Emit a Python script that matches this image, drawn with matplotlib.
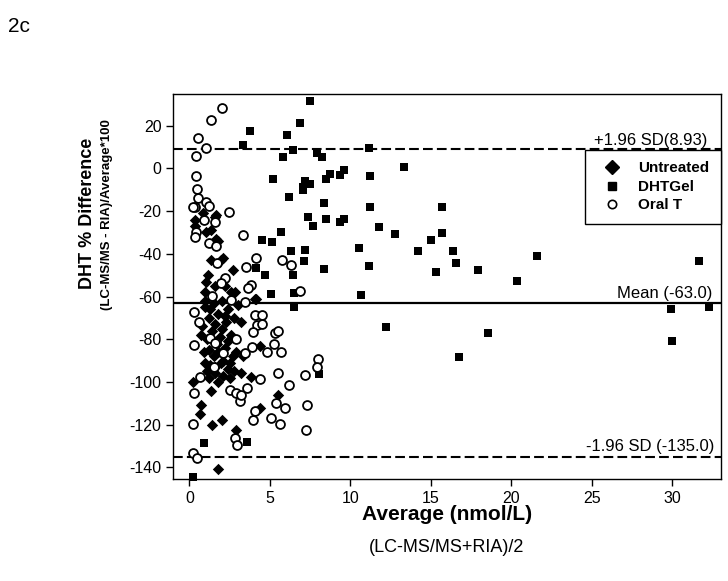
import numpy as np
import matplotlib
matplotlib.use('Agg')
import matplotlib.pyplot as plt
from matplotlib.lines import Line2D

plt.rcParams['font.family'] = ['Liberation Sans', 'DejaVu Sans']
plt.rcParams['lines.scale_dashes'] = False
plt.rcParams['axes.unicode_minus'] = False

# Untreated (diamonds)
untreated_x = [0.33, 0.85, 1.68, 1.57, 1.37, 1.06, 1.78, 1.68, 0.33, 1.37, 1.99, 2.09, 2.71, 1.16, 1.06,
               2.19, 2.61, 2.82, 0.95, 4.16, 4.06,
               1.0, 1.5, 2.0, 2.4, 1.2, 1.8, 2.3, 0.8, 1.4, 2.0, 2.6, 1.1, 1.7, 2.2, 0.9, 1.5, 2.1, 2.7,
               0.95, 1.99, 1.57, 2.4, 1.37, 3.23, 3.85, 4.41, 1.2, 1.8, 2.5, 1.0, 1.6, 3.0, 2.9, 1.3,
               1.3, 2.2, 1.6, 2.8, 1.9, 2.4, 1.2, 1.8, 2.5, 1.6, 2.1, 1.1, 2.8, 3.3, 0.7, 3.2,
               0.22, 0.75, 0.64, 1.4, 2.05, 2.92, 1.78, 4.37, 5.51]
untreated_y = [-24, -21, -22, -23, -29, -30, -34, -33, -27, -43, -43, -42, -47.5, -50, -53,
               -55, -58, -58, -62, -61, -61,
               -65, -63, -62, -66, -70, -68, -72, -74, -76, -75, -78, -80, -82, -84, -86, -88, -90, -88,
               -91, -91, -96, -94, -104, -96, -97.5, -83, -98, -100, -98, -58, -55, -64, -86, -92,
               -66, -69, -73, -70, -79, -81, -85, -86, -91, -93, -97, -95, -95, -88, -78, -72,
               -100, -111, -115, -120, -118, -122.5, -140.5, -112, -106]

# DHTGel (squares)
dhtgel_x = [7.48, 6.86, 3.75, 6.05, 3.31, 6.44, 5.84, 7.93, 8.26, 11.14, 5.22, 7.21, 7.52, 7.06, 7.08,
            8.51, 8.74, 9.38, 9.61, 11.19, 6.19, 8.35, 11.2, 7.37, 7.68, 8.51, 9.34, 9.61, 5.72, 4.51,
            5.13, 10.54, 6.31, 7.18, 7.1, 8.37, 11.14, 4.12, 4.68, 6.44,
            5.05, 6.48, 6.5, 10.69, 8.04, 0.91, 3.58, 0.25,
            13.34, 15.7, 11.78, 12.78, 15.72, 15.02, 14.19, 16.36, 16.55, 15.29, 17.92, 20.36, 21.57,
            31.65, 12.2, 18.52, 16.72, 29.9, 32.3, 30.0]
dhtgel_y = [31.6, 21.4, 17.4, 15.4, 11.1, 8.5, 5.5, 7.4, 5.1, 9.6, -5.1, -5.7, -7.3, -8.5, -10.1,
            -5.1, -2.6, -3.2, -0.7, -3.8, -13.5, -16.3, -17.9, -22.6, -26.9, -23.5, -25.2, -23.5, -29.6, -33.5,
            -34.3, -37.5, -38.6, -38.3, -43.6, -47.2, -45.6, -46.7, -49.9, -49.9,
            -58.8, -58.4, -65, -59.2, -96.3, -128.5, -128.2, -144.4,
            0.7, -18.3, -27.4, -30.5, -30.2, -33.5, -38.6, -38.5, -44.4, -48.3, -47.8, -52.8, -41.1,
            -43.3, -74.2, -76.9, -88.1, -65.8, -65, -81]

# Oral T (open circles)
oralt_x = [2.03, 1.37, 0.53, 1.06, 0.39, 0.43, 0.5, 0.53, 0.37, 1.01, 1.22, 2.44, 0.89, 1.57, 0.22,
           0.43, 0.37, 3.31, 1.22, 1.68, 1.74, 4.12, 3.5, 5.75, 6.3, 2.2, 1.99, 3.85, 3.64, 6.87,
           3.44, 2.61, 1.4, 0.29, 0.61, 4.06, 4.5, 4.2, 4.52, 5.3, 5.5, 3.95, 0.31, 1.68, 2.9,
           1.26, 1.62, 2.09, 3.44, 3.89, 4.85, 5.25, 5.67, 1.53, 0.64, 2.5, 2.92, 3.6, 4.37, 0.28,
           3.13, 4.06, 3.95, 5.1, 5.51, 5.4, 0.22, 2.85, 2.97, 0.22, 0.5, 8.0, 7.93, 7.17, 6.17,
           7.31, 7.23, 5.92, 5.61, 3.23]
oralt_y = [28.2, 22.7, 14.1, 9.5, 5.9, -3.8, -9.6, -13.7, -17.9, -15.8, -17.6, -20.5, -24.1, -25.2, -18.2,
           -29.6, -31.9, -31.1, -35, -36.3, -44.1, -42, -46, -42.7, -45.2, -51.4, -53.7, -54.7, -56.1, -57.3,
           -62.6, -61.6, -59.7, -67.2, -71.7, -68.8, -68.6, -73.5, -73, -76.9, -76, -76.4, -82.6, -81.1, -80,
           -79.5, -81.8, -86.5, -86.5, -83.7, -86, -82.4, -86, -92.8, -97.8, -103.7, -105.2, -102.6, -98.7, -105.2,
           -109, -113.5, -117.6, -116.7, -96, -110, -119.7, -126, -129.7, -133.3, -135.7, -89.2, -93.1, -96.7, -101.4,
           -110.7, -122.7, -112.3, -119.6, -106]

mean_diff = -63.0
upper_loa = 8.93
lower_loa = -135.0

fig = plt.figure(figsize=(7.28, 5.81), dpi=100)
ax = fig.add_axes([0.238, 0.1756, 0.752, 0.6626])

ax.scatter(untreated_x, untreated_y, marker='D', s=5.8**2, color='black', linewidths=0, zorder=3)
ax.scatter(dhtgel_x, dhtgel_y, marker='s', s=6.3**2, color='black', linewidths=0, zorder=3, clip_on=False)
ax.scatter(oralt_x, oralt_y, marker='o', s=6.4**2, facecolors='white', edgecolors='black',
           linewidths=1.3, zorder=4)

ax.axhline(upper_loa, color='black', lw=1.5, linestyle=(0, (7, 3)), zorder=2)
ax.axhline(mean_diff, color='black', lw=1.6, zorder=2)
ax.axhline(lower_loa, color='black', lw=1.5, linestyle=(0, (7, 3)), zorder=2)

ax.text(32.2, upper_loa + 0.6, '+1.96 SD(8.93)', ha='right', va='bottom', fontsize=12, zorder=6)
ax.text(32.5, mean_diff + 0.8, 'Mean (-63.0)', ha='right', va='bottom', fontsize=12)
ax.text(32.6, lower_loa + 1.5, '-1.96 SD (-135.0)', ha='right', va='bottom', fontsize=12)

ax.set_xlim(-1.0, 33.0)
ax.set_ylim(-145.4, 34.8)
ax.set_xticks(np.arange(0, 31, 5))
ax.set_yticks(np.arange(-140, 21, 20))
ax.tick_params(axis='both', labelsize=11.5, direction='out', length=5, width=1)
for sp in ax.spines.values():
    sp.set_linewidth(1.0)

handles = [Line2D([], [], marker='D', color='black', linestyle='None', markersize=7.5),
           Line2D([], [], marker='s', color='black', linestyle='None', markersize=5.5),
           Line2D([], [], marker='o', markerfacecolor='white', markeredgecolor='black',
                  markeredgewidth=1.2, linestyle='None', markersize=6)]
leg = ax.legend(handles, ['Untreated', 'DHTGel', 'Oral T'], loc='upper right',
                bbox_to_anchor=(1.0, 0.855), borderaxespad=0, fancybox=False,
                edgecolor='black', framealpha=1, prop={'weight': 'bold', 'size': 11},
                borderpad=0.75, labelspacing=0.3, handletextpad=0.7)
leg.get_frame().set_linewidth(1.0)
leg.set_zorder(5)

fig.text(87 / 728, 1 - 213 / 581, 'DHT % Difference', rotation=90, ha='center', va='center',
         fontsize=13, fontweight='bold')
fig.text(107 / 728, 1 - 215 / 581, '(LC-MS/MS - RIA)/Average*100', rotation=90, ha='center', va='center',
         fontsize=9.5, fontweight='bold')
fig.text(447 / 728, 1 - 515 / 581, 'Average (nmol/L)', ha='center', va='center', fontsize=15, fontweight='bold')
fig.text(447 / 728, 1 - 548 / 581, '(LC-MS/MS+RIA)/2', ha='center', va='center', fontsize=13)
fig.text(0.011, 0.955, '2c', ha='left', va='center', fontsize=15)

plt.savefig('out.png', dpi=100)
